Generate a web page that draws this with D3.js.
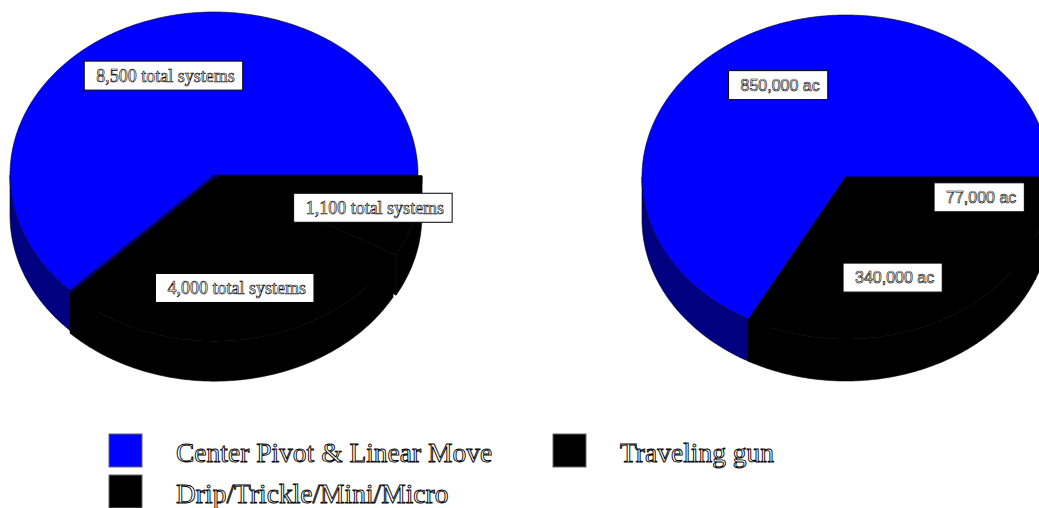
<!DOCTYPE html>
<html><head><meta charset="utf-8">
<script src="https://cdn.jsdelivr.net/npm/d3@7"></script>
<style>body{margin:0;background:#fff}svg{display:block}</style>
</head><body><svg id="c" width="1039" height="508"></svg>
<script>
const categories = ["Center Pivot & Linear Move", "Traveling gun", "Drip/Trickle/Mini/Micro"];
const systemsValues = [8500, 1100, 4000];
const systemsLabels = ["8,500 total systems", "1,100 total systems", "4,000 total systems"];
const acresValues = [850000, 77000, 340000];
const acresLabels = ["850,000 ac", "77,000 ac", "340,000 ac"];
const topColors = ["#0000ff", "#000000", "#000000"];
const sideColors = ["#000080", "#000000", "#000000"];
const clockwiseOrder = [1, 2, 0];

const svg = d3.select("#c");
const line = d3.line();

function pie3d(cfg) {
  const g = svg.append("g");
  const data = clockwiseOrder.map(i => ({ i, v: cfg.values[i] }));
  const arcs = d3.pie().sort(null).value(d => d.v)
    .startAngle(Math.PI / 2).endAngle(Math.PI / 2 + 2 * Math.PI)(data);
  const pt = (a, r, off, dz) => [cfg.cx + off[0] + cfg.rx * r * Math.sin(a),
                                 cfg.cy + off[1] - cfg.ry * r * Math.cos(a) + dz];
  arcs.forEach(a => {
    a.mid = (a.startAngle + a.endAngle) / 2;
    const e = cfg.explode[a.data.i];
    a.off = [e * Math.sin(a.mid), -e * Math.cos(a.mid) * cfg.ry / cfg.rx];
  });
  const arcPts = (a0, a1, off, dz) => {
    const n = Math.max(2, Math.ceil(Math.abs(a1 - a0) / 0.01));
    return d3.range(n + 1).map(k => pt(a0 + (a1 - a0) * k / n, 1, off, dz));
  };
  const order = [...arcs].sort((p, q) => -Math.cos(p.mid) + Math.cos(q.mid));
  const D = cfg.depth;
  order.forEach(a => {
    const c = sideColors[a.data.i];
    [a.startAngle, a.endAngle].forEach(ang => {
      const p = [pt(ang, 0, a.off, 0), pt(ang, 1, a.off, 0), pt(ang, 1, a.off, D), pt(ang, 0, a.off, D)];
      g.append("path").attr("d", line(p) + "Z").attr("fill", c).attr("stroke", "#000").attr("stroke-width", 0.6);
    });
    const s = Math.max(a.startAngle, Math.PI / 2), e = Math.min(a.endAngle, 3 * Math.PI / 2);
    if (e > s) {
      const p = arcPts(s, e, a.off, 0).concat(arcPts(e, s, a.off, D));
      g.append("path").attr("d", line(p) + "Z").attr("fill", c).attr("stroke", "#000").attr("stroke-width", 0.6);
    }
  });
  order.forEach(a => {
    const p = [pt(0, 0, a.off, 0)].concat(arcPts(a.startAngle, a.endAngle, a.off, 0));
    g.append("path").attr("d", line(p) + "Z").attr("fill", topColors[a.data.i])
      .attr("stroke", "#000").attr("stroke-width", 0.6);
  });
  arcs.forEach(a => {
    const i = a.data.i;
    const [x, y] = pt(a.mid, cfg.labelR[i], a.off, 0);
    const lg = g.append("g");
    const rect = lg.append("rect").attr("fill", "#fff").attr("stroke", "#000").attr("stroke-width", 1);
    const t = lg.append("text").attr("x", x + 3).attr("y", y).attr("dy", "0.35em")
      .attr("text-anchor", "middle").attr("font-family", cfg.font).attr("font-size", cfg.fontSize)
      .attr("fill", "#fff").attr("stroke", "#000").attr("stroke-width", 0.6)
      .text(cfg.labels[i]);
    const bb = t.node().getBBox();
    rect.attr("x", bb.x - 12).attr("y", y - 14.5).attr("width", bb.width + 20).attr("height", 29);
  });
}

pie3d({ values: systemsValues, labels: systemsLabels, cx: 214, cy: 175, rx: 204, ry: 163, depth: 40,
        explode: [0, 4, 4], labelR: [0.66, 0.78, 0.68], fontSize: 18,
        font: "'Liberation Serif', 'Times New Roman', serif" });
pie3d({ values: acresValues, labels: acresLabels, cx: 846, cy: 177, rx: 204, ry: 162, depth: 42,
        explode: [0, 0, 0], labelR: [0.66, 0.66, 0.66], fontSize: 16,
        font: "'Liberation Sans', Arial, sans-serif" });

// legend
const legendPos = [[109, 434], [553, 434], [109, 475]];
const lg = svg.append("g");
categories.forEach((c, i) => {
  const [x, y] = legendPos[i];
  lg.append("rect").attr("x", x).attr("y", y).attr("width", 33).attr("height", 33)
    .attr("fill", topColors[i]).attr("stroke", "#666").attr("stroke-width", 1);
  lg.append("text").attr("x", x + 67).attr("y", y + 28)
    .attr("font-family", "'Liberation Serif', 'Times New Roman', serif").attr("font-size", 27.5)
    .attr("fill", "#fff").attr("stroke", "#000").attr("stroke-width", 0.9)
    .text(c);
});
</script></body></html>
